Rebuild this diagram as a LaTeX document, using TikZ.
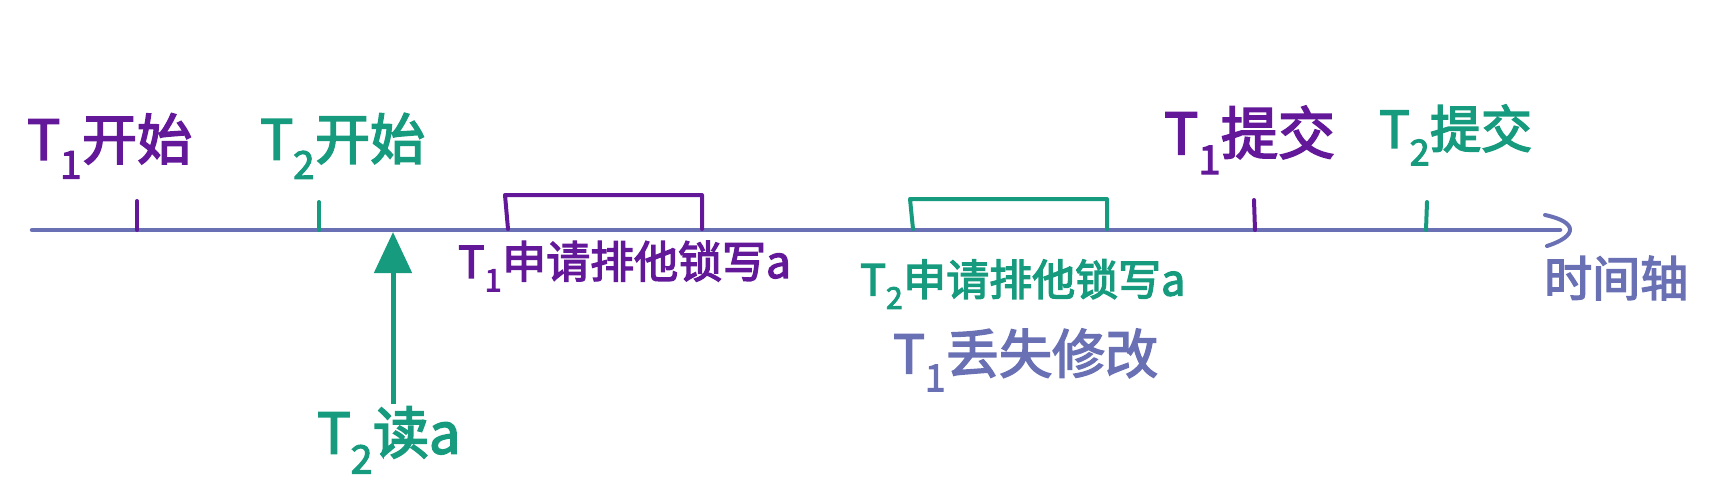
\documentclass[tikz,border=0pt]{standalone}
\usepackage{fontspec}
\setmainfont{Noto Sans CJK SC}[FakeBold=3]
\usetikzlibrary{arrows.meta}
\definecolor{tpurple}{HTML}{63189A}
\definecolor{tgreen}{HTML}{169B7E}
\definecolor{taxis}{HTML}{6A70B4}
\newcommand{\fsz}[1]{\fontsize{#1}{#1}\selectfont}
\begin{document}
\begin{tikzpicture}[x=1pt,y=-1pt,
  lbl/.style={inner sep=0pt, anchor=west},
  tickline/.style={line width=4pt, line cap=round},
  bracket/.style={line width=4pt, line cap=round, line join=round}]
\useasboundingbox (0,0) rectangle (1719,493);
% axis
\coordinate (a0) at (32,230);
\coordinate (a1) at (1560,230);
\draw[taxis, line width=4.5pt, line cap=round] (a0) -- (a1);
\draw[taxis, line width=4pt, line cap=round, line join=round]
  (1545,215) .. controls (1578,222) and (1578,236) .. (1547,246);
% ticks
\coordinate (s1b) at (137,230); \coordinate (s1t) at (137,201);
\coordinate (s2b) at (319,230); \coordinate (s2t) at (319,202);
\coordinate (c1b) at (1255,230); \coordinate (c1t) at (1254,200);
\coordinate (c2b) at (1426,230); \coordinate (c2t) at (1427,202);
\draw[tickline, tpurple] (s1b) -- (s1t);
\draw[tickline, tgreen] (s2b) -- (s2t);
\draw[tickline, tpurple] (c1b) -- (c1t);
\draw[tickline, tgreen] (c2b) -- (c2t);
% brackets
\coordinate (p0) at (508,229); \coordinate (p1) at (505,195);
\coordinate (p2) at (702,195); \coordinate (p3) at (702,229);
\draw[bracket, tpurple] (p0) -- (p1) -- (p2) -- (p3);
\coordinate (g0) at (913,229); \coordinate (g1) at (910,199);
\coordinate (g2) at (1107,199); \coordinate (g3) at (1107,229);
\draw[bracket, tgreen] (g0) -- (g1) -- (g2) -- (g3);
% labels
\node[lbl, tpurple] (t1c) at (1164,140) {\fsz{57}T\textsubscript{1}提交};
\node[lbl, tpurple] (t1s) at (27,146) {\fsz{55}T\textsubscript{1}开始};
\node[lbl, tgreen] (t2s) at (260,146) {\fsz{55}T\textsubscript{2}开始};
\node[lbl, tgreen] (t2c) at (1379,135) {\fsz{51}T\textsubscript{2}提交};
\node[lbl, tpurple] (t1l) at (458,266) {\fsz{44}T\textsubscript{1}申请排他锁写a};
\node[lbl, tgreen] (t2l) at (860,284) {\fsz{43}T\textsubscript{2}申请排他锁写a};
\node[lbl, taxis] (lost) at (893,360) {\fsz{53}T\textsubscript{1}丢失修改};
\node[lbl, taxis] (time) at (1544,278) {\fsz{48}时间轴};
\node[lbl, tgreen] (rd) at (317,440) {\fsz{56}T\textsubscript{2}读a};
% read arrow
\coordinate (rtip) at (393,232);
\coordinate (rbase) at (393,404);
\draw[tgreen, line width=5pt, -{Triangle[length=41pt,width=37pt]}] (rbase) -- (rtip);
\end{tikzpicture}
\end{document}
